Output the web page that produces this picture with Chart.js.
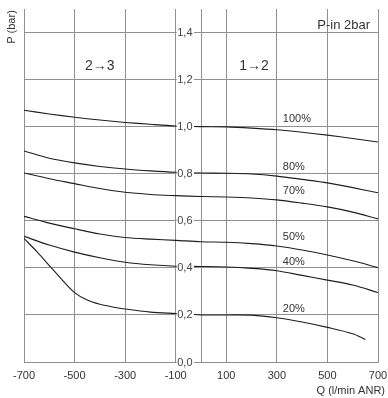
<!DOCTYPE html>
<html>
<head>
<meta charset="utf-8">
<script src="https://cdn.jsdelivr.net/npm/chart.js@4/dist/chart.umd.min.js"></script>
<style>
  html, body { margin: 0; padding: 0; background: #fff; }
  #wrap { width: 388px; height: 398px; }
</style>
</head>
<body>
<div id="wrap"><canvas id="c"></canvas></div>
<script>
// Flow rate Q (l/min ANR) sample points shared by most curves
const flowQ = [-700, -600, -500, -400, -300, -200, -100, 0, 100, 200, 300, 400, 500, 600, 700];

// Outlet pressure P (bar) at each flow, per setting
const p100 = [1.07, 1.054, 1.04, 1.028, 1.018, 1.01, 1.003, 1.0, 0.999, 0.994, 0.987, 0.976, 0.964, 0.95, 0.935];
const p80  = [0.897, 0.866, 0.846, 0.831, 0.82, 0.812, 0.806, 0.803, 0.802, 0.799, 0.79, 0.776, 0.761, 0.741, 0.719];
const p70  = [0.803, 0.779, 0.758, 0.737, 0.721, 0.712, 0.707, 0.703, 0.701, 0.697, 0.689, 0.675, 0.659, 0.637, 0.608];
const p50  = [0.619, 0.59, 0.566, 0.544, 0.529, 0.522, 0.517, 0.511, 0.509, 0.503, 0.493, 0.476, 0.455, 0.43, 0.401];
const p40  = [0.534, 0.497, 0.467, 0.443, 0.424, 0.413, 0.407, 0.406, 0.404, 0.398, 0.388, 0.368, 0.348, 0.327, 0.295];

// The 20% curve has its own, denser flow points
const flowQ20 = [-700, -650, -600, -550, -500, -450, -400, -350, -300, -200, -100, 0, 100, 200, 300, 400, 500, 600, 650];
const p20     = [0.525, 0.47, 0.41, 0.35, 0.295, 0.263, 0.245, 0.234, 0.225, 0.212, 0.206, 0.2, 0.2, 0.199, 0.188, 0.17, 0.147, 0.12, 0.096];

const curveNames = ['100%', '80%', '70%', '50%', '40%', '20%'];

// Axis ticks
const xTickValues = [-700, -500, -300, -100, 0, 100, 300, 500, 700];
const yTickValues = [0, 0.2, 0.4, 0.6, 0.8, 1.0, 1.2, 1.4];

const FONT = '"Liberation Sans", Arial, sans-serif';
const TEXT = '#333';
const GRID = '#8f8f8f';

function toPoints(xs, ys) {
  return xs.map((x, i) => ({ x: x, y: ys[i] }));
}

const series = [
  toPoints(flowQ, p100),
  toPoints(flowQ, p80),
  toPoints(flowQ, p70),
  toPoints(flowQ, p50),
  toPoints(flowQ, p40),
  toPoints(flowQ20, p20)
];

const datasets = series.map((pts, i) => ({
  label: curveNames[i],
  data: pts,
  borderColor: '#1e1e1e',
  borderWidth: 1.1,
  pointRadius: 0,
  tension: 0.3,
  fill: false
}));

// Texts placed on top of the plot: pressure tick labels on the central axis,
// curve names, switching-direction marks and axis titles.
const annotations = {
  id: 'annotations',
  afterDatasetsDraw(chart) {
    const { ctx, chartArea, scales } = chart;
    const xs = scales.x, ys = scales.y;
    ctx.save();

    // pressure tick labels to the right of the axis at Q = -100
    const axisX = xs.getPixelForValue(-100);
    ctx.font = '11px ' + FONT;
    ctx.textBaseline = 'middle';
    ctx.textAlign = 'left';
    ys.ticks.forEach(t => {
      const txt = t.value.toFixed(1).replace('.', ',');
      const py = ys.getPixelForValue(t.value);
      const w = ctx.measureText(txt).width;
      ctx.fillStyle = '#fff';
      ctx.fillRect(axisX + 1, py - 6, w + 2, 12);
      ctx.fillStyle = '#444';
      ctx.fillText(txt, axisX + 1.5, py + 0.5);
    });

    // curve names above each curve at Q = 300
    ctx.fillStyle = TEXT;
    ctx.font = '11px ' + FONT;
    const lx = xs.getPixelForValue(300) + 6;
    series.forEach((pts, i) => {
      const p = pts.find(d => d.x === 300);
      const py = ys.getPixelForValue(p.y) - (i === 0 ? 11 : 9);
      ctx.fillText(curveNames[i], lx, py);
    });

    // switching direction marks
    ctx.font = '14px ' + FONT;
    ctx.textAlign = 'center';
    ctx.fillText('2\u21923', xs.getPixelForValue(-400), ys.getPixelForValue(1.256));
    ctx.fillText('1\u21922', xs.getPixelForValue(210), ys.getPixelForValue(1.256));

    // inlet pressure note
    ctx.font = '13px ' + FONT;
    ctx.textAlign = 'right';
    ctx.fillText('P-in 2bar', chartArea.right - 8, chartArea.top + 16);

    // axis titles
    ctx.font = '11px ' + FONT;
    ctx.fillText('Q (l/min ANR)', chart.width - 3, chart.height - 7);

    ctx.translate(12, 27);
    ctx.rotate(-Math.PI / 2);
    ctx.textAlign = 'center';
    ctx.fillText('P (bar)', 0, 0);

    ctx.restore();
  }
};

new Chart(document.getElementById('c'), {
  type: 'line',
  data: { datasets: datasets },
  options: {
    responsive: true,
    maintainAspectRatio: false,
    animation: false,
    layout: { padding: { left: 24, right: 10, top: 9, bottom: 0 } },
    plugins: { legend: { display: false }, tooltip: { enabled: false } },
    scales: {
      x: {
        type: 'linear',
        position: 'bottom',
        min: -700,
        max: 700,
        afterBuildTicks: s => { s.ticks = xTickValues.map(v => ({ value: v })); },
        afterFit: s => {
          s.height = 36;
          s.paddingLeft = 0;
          s.paddingRight = 0;
        },
        ticks: {
          autoSkip: false,
          maxRotation: 0,
          padding: 7,
          color: TEXT,
          font: { family: FONT, size: 11 },
          callback: v => (v === 0 ? '' : String(v))
        },
        grid: { color: GRID, lineWidth: 1, drawTicks: false },
        border: { color: GRID, width: 1 }
      },
      y: {
        type: 'linear',
        position: { x: -100 },
        min: 0,
        max: 1.5,
        afterBuildTicks: s => { s.ticks = yTickValues.map(v => ({ value: v })); },
        afterFit: s => {
          s.width = 0;
          s.paddingTop = 0;
          s.paddingBottom = 0;
        },
        ticks: { display: false },
        grid: { color: GRID, lineWidth: 1, drawTicks: false },
        border: { color: GRID, width: 1 }
      }
    }
  },
  plugins: [annotations]
});
</script>
</body>
</html>
